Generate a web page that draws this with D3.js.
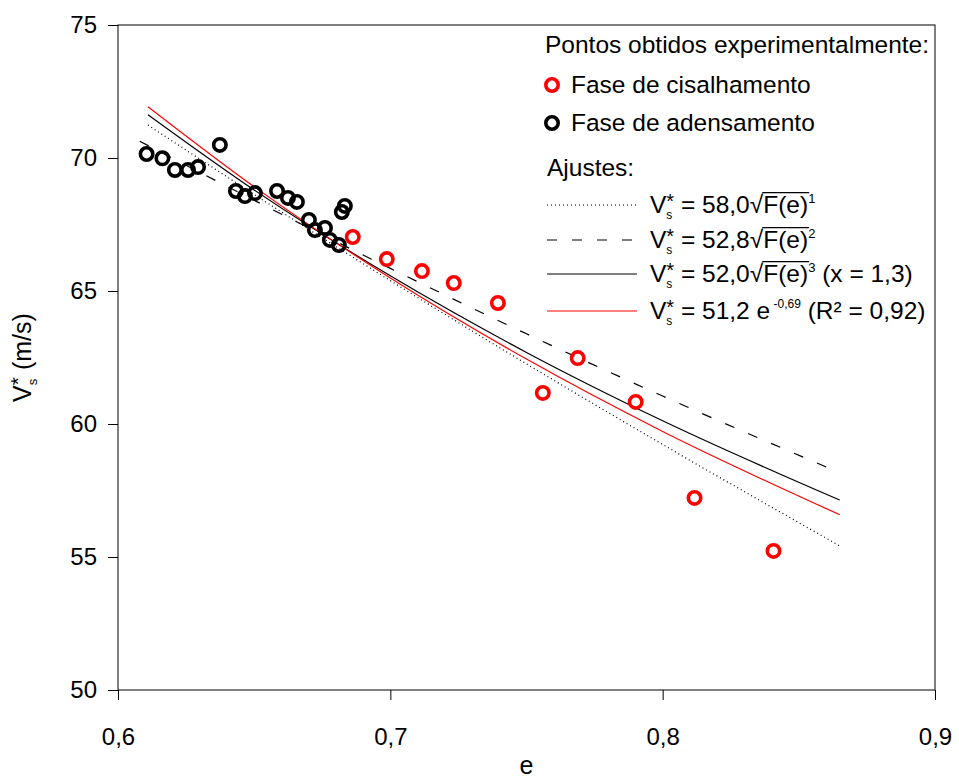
<!DOCTYPE html>
<html>
<head>
<meta charset="utf-8">
<title>Vs* x e</title>
<style>
  body { margin: 0; background: #fff; }
  text { font-family: "Liberation Sans", Arial, sans-serif; white-space: pre; }
</style>
</head>
<body>
<script src="https://d3js.org/d3.v7.min.js"></script>
<script>
// pontos experimentais - fase de adensamento
var adensE = [0.6105, 0.6163, 0.6209, 0.6257, 0.6294, 0.6374, 0.6433, 0.6466, 0.6503, 0.6584,
              0.6624, 0.6657, 0.6701, 0.6723, 0.6760, 0.6778, 0.6811, 0.6822, 0.6833];
var adensV = [70.15, 69.99, 69.55, 69.55, 69.66, 70.49, 68.76, 68.57, 68.68, 68.76,
              68.50, 68.35, 67.67, 67.29, 67.37, 66.92, 66.73, 67.97, 68.20];

// pontos experimentais - fase de cisalhamento
var cisalE = [0.6862, 0.6987, 0.7116, 0.7233, 0.7395, 0.7560, 0.7688, 0.7901, 0.8117, 0.8407];
var cisalV = [67.03, 66.20, 65.75, 65.30, 64.55, 61.17, 62.48, 60.83, 57.22, 55.23];

// curvas de ajuste
var ajusteE  = [0.611, 0.65, 0.70, 0.75, 0.80, 0.865];
var ajusteE2 = [0.608, 0.65, 0.70, 0.75, 0.80, 0.865];
var ajuste1 = [71.24, 68.63, 65.39, 62.26, 59.23, 55.42];  // pontilhada
var ajuste2 = [70.63, 68.41, 65.85, 63.39, 61.05, 58.17];  // tracejada
var ajuste3 = [71.63, 68.80, 65.57, 62.69, 60.12, 57.14];  // preta
var ajuste4 = [71.93, 68.92, 65.49, 62.44, 59.72, 56.59];  // vermelha

var xTicks = [0.6, 0.7, 0.8, 0.9];
var yTicks = [50, 55, 60, 65, 70, 75];

var W = 959, H = 778;
var mL = 118, mR = 935, mT = 25, mB = 690;

var svg = d3.select('body').append('svg')
    .attr('width', W)
    .attr('height', H);

var x = d3.scaleLinear().domain([0.6, 0.9]).range([mL, mR]);
var y = d3.scaleLinear().domain([50, 75]).range([mB, mT]);

function virgula(d) { return d.toFixed(1).replace('.', ','); }

var xAxis = svg.append('g')
    .attr('transform', 'translate(0,' + mB + ')')
    .call(d3.axisBottom(x).tickValues(xTicks).tickFormat(virgula)
        .tickSizeInner(10).tickSizeOuter(0).tickPadding(28));
var yAxis = svg.append('g')
    .attr('transform', 'translate(' + mL + ',0)')
    .call(d3.axisLeft(y).tickValues(yTicks).tickFormat(d3.format('d'))
        .tickSizeInner(10).tickSizeOuter(0).tickPadding(11));

[xAxis, yAxis].forEach(function(a) {
  a.select('.domain').remove();
  a.selectAll('text').style('font-size', '24px').attr('fill', '#000')
      .style('font-family', '"Liberation Sans", Arial, sans-serif');
  a.selectAll('line').attr('stroke', '#000');
});

svg.append('rect')
    .attr('x', mL).attr('y', mT)
    .attr('width', mR - mL).attr('height', mB - mT)
    .attr('fill', 'none').attr('stroke', '#000').attr('stroke-width', 1);

// texto com sub/sobrescritos: cada pedaco e um <text>
function rich(g, x0, y0, parts, base) {
  var cx = x0, prevStart = x0;
  parts.forEach(function(p) {
    var size = p.size || base;
    var start = p.stack ? prevStart : cx;
    var t = g.append('text')
        .attr('x', start)
        .attr('y', y0 + (p.dy || 0))
        .style('font-size', size + 'px')
        .text(p.t);
    var w = t.node().getComputedTextLength();
    if (p.over) {
      g.append('line')
          .attr('x1', start - 1).attr('x2', start + w + 1)
          .attr('y1', y0 - size * 0.83).attr('y2', y0 - size * 0.83)
          .attr('stroke', '#000').attr('stroke-width', 1.2);
    }
    prevStart = start;
    cx = Math.max(cx, start + w);
  });
  return cx - x0;
}

// curvas
var line = d3.line()
    .x(function(d) { return x(d[0]); })
    .y(function(d) { return y(d[1]); })
    .curve(d3.curveMonotoneX);

var curvas = [
  { e: ajusteE,  v: ajuste1, cor: '#000', dash: '1,3' },
  { e: ajusteE2, v: ajuste2, cor: '#000', dash: '10,15' },
  { e: ajusteE,  v: ajuste3, cor: '#000', dash: null },
  { e: ajusteE,  v: ajuste4, cor: '#ff0000', dash: null }
];

curvas.forEach(function(c) {
  svg.append('path')
      .datum(d3.zip(c.e, c.v))
      .attr('d', line)
      .attr('fill', 'none')
      .attr('stroke', c.cor)
      .attr('stroke-width', 1.2)
      .attr('stroke-dasharray', c.dash);
});

// pontos
function pontos(es, vs, cor) {
  svg.append('g').selectAll('circle')
      .data(d3.zip(es, vs))
      .enter().append('circle')
      .attr('cx', function(d) { return x(d[0]); })
      .attr('cy', function(d) { return y(d[1]); })
      .attr('r', 6.2)
      .attr('fill', 'none')
      .attr('stroke', cor)
      .attr('stroke-width', 3.6);
}
pontos(adensE, adensV, '#000');
pontos(cisalE, cisalV, '#ff0000');

// legenda
var leg = svg.append('g');
var fs = 24.5;
leg.append('text').attr('x', 545).attr('y', 53).style('font-size', fs + 'px')
    .text('Pontos obtidos experimentalmente:');
[['#ff0000', 'Fase de cisalhamento', 85], ['#000', 'Fase de adensamento', 123]].forEach(function(l) {
  leg.append('circle').attr('cx', 552).attr('cy', l[2]).attr('r', 6.2)
      .attr('fill', 'none').attr('stroke', l[0]).attr('stroke-width', 3.6);
  leg.append('text').attr('x', 571).attr('y', l[2] + 8).style('font-size', fs + 'px').text(l[1]);
});
leg.append('text').attr('x', 547).attr('y', 176).style('font-size', fs + 'px').text('Ajustes:');

var vs = [
  { t: 'V' },
  { t: 's', size: 12, dy: 6 },
  { t: '*', size: 20, dy: -5, stack: true }
];
var eqs = [
  vs.concat([{ t: ' = 58,0' }, { t: '√' }, { t: 'F(e)', over: true }, { t: '1', size: 13, dy: -10 }]),
  vs.concat([{ t: ' = 52,8' }, { t: '√' }, { t: 'F(e)', over: true }, { t: '2', size: 13, dy: -10 }]),
  vs.concat([{ t: ' = 52,0' }, { t: '√' }, { t: 'F(e)', over: true }, { t: '3', size: 13, dy: -10 },
             { t: ' (x = 1,3)' }]),
  vs.concat([{ t: ' = 51,2 e' }, { t: ' -0,69', size: 12, dy: -11 }, { t: ' (R² = 0,92)' }])
];
var legY = [205, 240, 274, 311];
curvas.forEach(function(c, i) {
  leg.append('line')
      .attr('x1', 547).attr('x2', 637)
      .attr('y1', legY[i]).attr('y2', legY[i])
      .attr('stroke', c.cor).attr('stroke-width', 1.2)
      .attr('stroke-dasharray', c.dash);
  rich(leg, 650, legY[i] + 8, eqs[i], fs);
});

// titulos dos eixos
svg.append('text')
    .attr('x', (mL + mR) / 2).attr('y', 774)
    .attr('text-anchor', 'middle')
    .style('font-size', '25px')
    .text('e');

var yt = svg.append('g');
var yw = rich(yt, 0, 0, [
  { t: 'V' },
  { t: 's', size: 13, dy: 6 },
  { t: '*', size: 21, dy: -6, stack: true },
  { t: ' (m/s)' }
], 25);
yt.attr('transform', 'translate(31,' + ((mT + mB) / 2) + ') rotate(-90) translate(' + (-yw / 2) + ',0)');
</script>
</body>
</html>
